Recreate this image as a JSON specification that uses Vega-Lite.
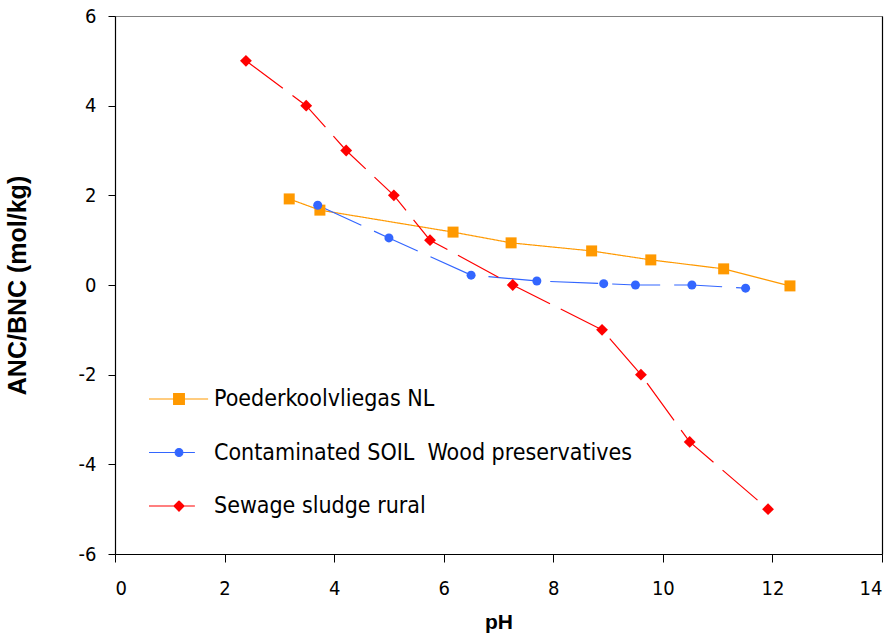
{
  "$schema": "https://vega.github.io/schema/vega-lite/v6.json",
  "width": 767,
  "height": 538,
  "autosize": "none",
  "padding": {"left": 115, "top": 16, "right": 13, "bottom": 83},
  "background": "white",
  "config": {
    "view": {"stroke": "#808080", "strokeWidth": 1},
    "axis": {
      "grid": false,
      "domainColor": "#000",
      "domainWidth": 1.2,
      "tickColor": "#000",
      "tickWidth": 1,
      "labelFont": "DejaVu Sans Condensed",
      "labelFontSize": 20,
      "labelColor": "#000",
      "titleFont": "Liberation Sans",
      "titleFontSize": 22,
      "titleFontWeight": "bold",
      "titleColor": "#000"
    },
    "legend": {
      "orient": "none",
      "legendX": 33,
      "legendY": 352,
      "title": null,
      "padding": 0,
      "labelFont": "DejaVu Sans Condensed",
      "labelFontSize": 23,
      "labelColor": "#000",
      "labelLimit": 600,
      "symbolSize": 3600,
      "rowPadding": 10.5,
      "labelOffset": 4
    }
  },
  "data": {
    "values": [
      {"series": "Poederkoolvliegas NL", "pH": 3.18, "value": 1.92},
      {"series": "Poederkoolvliegas NL", "pH": 3.74, "value": 1.67},
      {"series": "Poederkoolvliegas NL", "pH": 6.17, "value": 1.18},
      {"series": "Poederkoolvliegas NL", "pH": 7.23, "value": 0.94},
      {"series": "Poederkoolvliegas NL", "pH": 8.7, "value": 0.76},
      {"series": "Poederkoolvliegas NL", "pH": 9.78, "value": 0.56},
      {"series": "Poederkoolvliegas NL", "pH": 11.11, "value": 0.36},
      {"series": "Poederkoolvliegas NL", "pH": 12.32, "value": -0.02},
      {"series": "Contaminated SOIL  Wood preservatives", "pH": 3.7, "value": 1.78},
      {"series": "Contaminated SOIL  Wood preservatives", "pH": 5.0, "value": 1.05},
      {"series": "Contaminated SOIL  Wood preservatives", "pH": 6.5, "value": 0.22},
      {"series": "Contaminated SOIL  Wood preservatives", "pH": 7.7, "value": 0.09},
      {"series": "Contaminated SOIL  Wood preservatives", "pH": 8.92, "value": 0.03},
      {"series": "Contaminated SOIL  Wood preservatives", "pH": 9.5, "value": 0.0},
      {"series": "Contaminated SOIL  Wood preservatives", "pH": 10.53, "value": 0.0},
      {"series": "Contaminated SOIL  Wood preservatives", "pH": 11.51, "value": -0.07},
      {"series": "Sewage sludge rural", "pH": 2.39, "value": 5.0},
      {"series": "Sewage sludge rural", "pH": 3.49, "value": 4.0},
      {"series": "Sewage sludge rural", "pH": 4.22, "value": 3.0},
      {"series": "Sewage sludge rural", "pH": 5.09, "value": 2.0},
      {"series": "Sewage sludge rural", "pH": 5.75, "value": 1.0},
      {"series": "Sewage sludge rural", "pH": 7.26, "value": 0.0},
      {"series": "Sewage sludge rural", "pH": 8.89, "value": -1.0},
      {"series": "Sewage sludge rural", "pH": 9.6, "value": -2.0},
      {"series": "Sewage sludge rural", "pH": 10.49, "value": -3.5},
      {"series": "Sewage sludge rural", "pH": 11.92, "value": -5.0}
    ]
  },
  "encoding": {
    "x": {
      "field": "pH",
      "type": "quantitative",
      "scale": {"domain": [0, 14], "nice": false, "zero": false},
      "axis": {"title": "pH", "values": [0, 2, 4, 6, 8, 10, 12, 14], "tickSize": 8, "labelPadding": 16, "titlePadding": 13, "titleFontSize": 21}
    },
    "color": {
      "field": "series",
      "type": "nominal",
      "scale": {"domain": ["Poederkoolvliegas NL", "Contaminated SOIL  Wood preservatives", "Sewage sludge rural"], "range": ["#FF9900", "#3366FF", "#FF0000"]},
      "legend": {
        "labelExpr": "replace(datum.label, 'SOIL  Wood', 'SOIL\u00a0\u00a0Wood')",
        "encode": {
          "symbols": {
            "update": {
              "shape": {"signal": "datum.value === 'Poederkoolvliegas NL' ? 'M-1,0H0.97M-0.18,-0.18H0.18V0.18H-0.18Z' : (datum.value === 'Sewage sludge rural' ? 'M-1,0H0.53M0,-0.17L0.17,0L0,0.17L-0.17,0Z' : 'M-1,0H0.53M0.13,0A0.13,0.13 0 1,1 -0.13,0A0.13,0.13 0 1,1 0.13,0Z')"},
              "size": {"value": 3600},
              "fill": {"signal": "scale('color', datum.value)"},
              "stroke": {"signal": "scale('color', datum.value)"},
              "strokeWidth": {"value": 1.1},
              "strokeDash": {"value": [1, 0]},
              "opacity": {"value": 1},
              "fillOpacity": {"value": 1},
              "strokeOpacity": {"value": 1}
            }
          }
        }
      }
    },
    "y": {
      "field": "value",
      "type": "quantitative",
      "scale": {"domain": [-6, 6], "nice": false}
    }
  },
  "layer": [
    {
      "mark": {"type": "line", "strokeWidth": 1.2},
      "encoding": {
        "y": {
          "field": "value",
          "type": "quantitative",
          "scale": {"domain": [-6, 6], "nice": false},
          "axis": {"title": "ANC/BNC (mol/kg)", "titleFontSize": 25, "values": [-6, -4, -2, 0, 2, 4, 6], "tickSize": 7, "labelPadding": 12, "titlePadding": 48, "labelExpr": "replace(datum.label, '−', '-')"}
        },
        "strokeDash": {
          "field": "series",
          "type": "nominal",
          "scale": {"domain": ["Poederkoolvliegas NL", "Contaminated SOIL  Wood preservatives", "Sewage sludge rural"], "range": [[1, 0], [48, 14], [46, 12]]},
          "legend": null
        }
      }
    },
    {
      "transform": [{"filter": "datum.series === 'Poederkoolvliegas NL'"}],
      "mark": {"type": "point", "filled": true, "opacity": 1, "shape": "square", "size": 121},
      "encoding": {
        "y": {
          "field": "value",
          "type": "quantitative",
          "scale": {"domain": [-6, 6], "nice": false},
          "axis": {"orient": "right", "labels": false, "ticks": false, "title": null, "domainColor": "#000"}
        }
      }
    },
    {
      "transform": [{"filter": "datum.series === 'Contaminated SOIL  Wood preservatives'"}],
      "mark": {"type": "point", "filled": true, "opacity": 1, "shape": "circle", "size": 81},
      "encoding": {
        "y": {"field": "value", "type": "quantitative", "scale": {"domain": [-6, 6], "nice": false}, "axis": null}
      }
    },
    {
      "transform": [{"filter": "datum.series === 'Sewage sludge rural'"}],
      "mark": {"type": "point", "filled": true, "opacity": 1, "shape": "diamond", "size": 140},
      "encoding": {
        "y": {"field": "value", "type": "quantitative", "scale": {"domain": [-6, 6], "nice": false}, "axis": null}
      }
    }
  ],
  "resolve": {"axis": {"y": "independent"}}
}
